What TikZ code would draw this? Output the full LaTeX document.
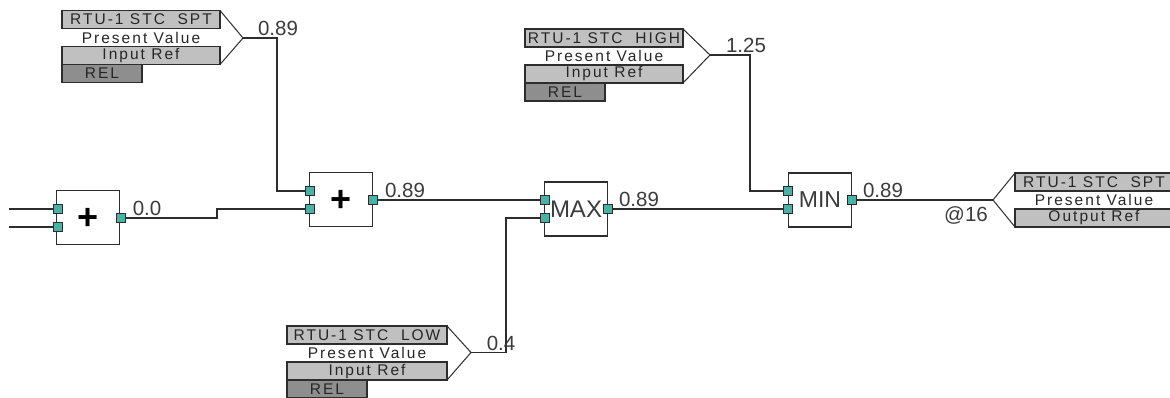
\documentclass[tikz,border=0pt]{standalone}
\usepackage{fontspec}
\usepackage{xcolor}
\usepackage{tikz}
\usetikzlibrary{positioning}
\setmainfont{Liberation Sans}
\newfontfamily\tagfont[LetterSpace=13]{Liberation Sans}
\definecolor{wirecol}{RGB}{45,45,45}
\definecolor{portcol}{RGB}{72,178,165}
\definecolor{rowcol}{RGB}{192,192,192}
\definecolor{relcol}{RGB}{142,142,142}
\definecolor{valcol}{RGB}{60,60,60}
\begin{document}
\begin{tikzpicture}[x=1pt, y=-1pt,
	wire/.style = {draw=wirecol, line width=1.7pt},
	chev/.style = {draw=wirecol, line width=1pt},
	block/.style = {draw=wirecol, line width=1.7pt, minimum width=63pt, minimum height=54pt, inner sep=0pt, outer sep=0pt, text=valcol, font=\fontsize{23}{23}\selectfont},
	plussign/.style = {text=black, inner sep=0pt, font=\fontsize{36}{36}\selectfont\bfseries},
	port/.style = {draw=wirecol, fill=portcol, line width=1pt, minimum size=9.5pt, inner sep=0pt, outer sep=0pt},
	val/.style = {text=valcol, inner sep=0pt, font=\fontsize{20.5}{20.5}\selectfont},
	tagrow/.style = {minimum width=158pt, minimum height=18pt, inner sep=0pt, outer sep=0pt, text=black!85, font=\tagfont\fontsize{15.5}{15.5}\selectfont},
	titlerow/.style = {tagrow, draw=wirecol, fill=rowcol, line width=1.2pt},
	valrow/.style = {tagrow},
	refrow/.style = {tagrow, draw=wirecol, fill=rowcol, line width=1.2pt},
	relrow/.style = {tagrow, fill=relcol, draw=wirecol, line width=1.2pt, minimum width=80pt}]
	\useasboundingbox (0,0) rectangle (1170,398);
	\fill[white] (0,0) rectangle (1170,398);

	\node[block] (add1) at (88,217.5) {};
	\node[plussign] (add1s) at (88,219) {+};
	\node[block] (add2) at (341,199.5) {};
	\node[plussign] (add2s) at (341,201) {+};
	\node[block, font=\fontsize{24}{24}\selectfont] (max) at (576,209) {MAX};
	\node[block] (min) at (820,200) {MIN};

	\node[port] (add1a) at (58,209) {};
	\node[port] (add1b) at (58,227) {};
	\node[port] (add1o) at (121,218) {};
	\node[port] (add2a) at (310,191) {};
	\node[port] (add2b) at (310,209) {};
	\node[port] (add2o) at (373,200) {};
	\node[port] (maxa) at (545,200) {};
	\node[port] (maxb) at (545,218) {};
	\node[port] (maxo) at (608,209) {};
	\node[port] (mina) at (788,191) {};
	\node[port] (minb) at (788,209) {};
	\node[port] (mino) at (852,200) {};

	\node[titlerow] (sptname) at (141,19.5) {RTU-1 STC\ \ SPT};
	\node[valrow] (sptval) [below=0pt of sptname] {Present Value};
	\node[refrow] (sptref) [below=0pt of sptval] {Input Ref};
	\node[relrow] (sptrel) [below=0pt of sptref.south west, anchor=north west] {REL};

	\node[titlerow] (highname) at (604,38) {RTU-1 STC\ \ HIGH};
	\node[valrow, minimum width=164pt] (highval) [below=0pt of highname] {Present Value};
	\node[refrow] (highref) [below=0pt of highval] {Input Ref};
	\node[relrow] (highrel) [below=0pt of highref.south west, anchor=north west] {REL};

	\node[titlerow, minimum width=160pt] (lowname) at (367,335) {RTU-1 STC\ \ LOW};
	\node[valrow] (lowval) [below=0pt of lowname] {Present Value};
	\node[refrow, minimum width=160pt] (lowref) [below=0pt of lowval] {Input Ref};
	\node[relrow] (lowrel) [below=0pt of lowref.south west, anchor=north west] {REL};

	\node[titlerow] (outname) at (1094,182) {RTU-1 STC\ \ SPT};
	\node[valrow] (outval) [below=0pt of outname] {Present Value};
	\node[refrow] (outref) [below=0pt of outval] {Output Ref};

	\coordinate (spttip) at (243,38);
	\coordinate (sptbend) at (277,38);
	\coordinate (hightip) at (710,55);
	\coordinate (highbend) at (750,55);
	\coordinate (lowtip) at (471,352.5);
	\coordinate (lowbend) at (506,352.5);
	\coordinate (outtip) at (993,200);
	\coordinate (jog) at (217,218);
	\coordinate (in1) at (9,209);
	\coordinate (in2) at (9,227);

	\draw[chev] (sptname.north east) -- (spttip) -- (sptref.south east);
	\draw[chev] (highname.north east) -- (hightip) -- (highref.south east);
	\draw[chev] (lowname.north east) -- (lowtip) -- (lowref.south east);
	\draw[chev] (outname.north west) -- (outtip) -- (outref.south west);

	\draw[wire] (in1) -- (add1a);
	\draw[wire] (in2) -- (add1b);
	\draw[wire] (add1o) -- (jog) |- (add2b);
	\draw[wire] (spttip) -- (sptbend) |- (add2a);
	\draw[wire] (add2o) -- (maxa);
	\draw[wire] (lowtip) -- (lowbend) |- (maxb);
	\draw[wire] (maxo) -- (minb);
	\draw[wire] (hightip) -- (highbend) |- (mina);
	\draw[wire] (mino) -- (outtip);

	\node[val] (v1) at (278,28) {0.89};
	\node[val] (v2) at (147,208) {0.0};
	\node[val] (v3) at (405,190) {0.89};
	\node[val] (v4) at (501,343) {0.4};
	\node[val] (v5) at (746,45) {1.25};
	\node[val] (v6) at (639,199) {0.89};
	\node[val] (v7) at (883,190) {0.89};
	\node[val] (v8) at (966,215) {@16};
\end{tikzpicture}
\end{document}
